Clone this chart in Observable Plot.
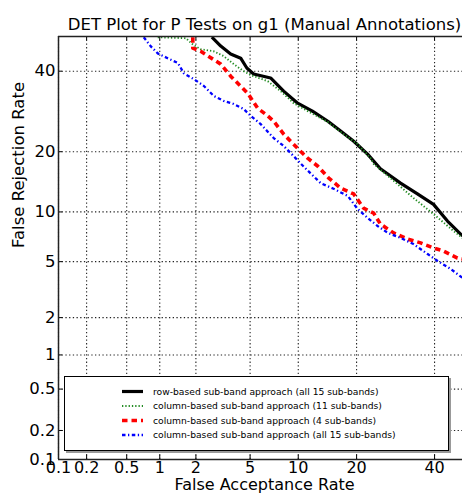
<!DOCTYPE html>
<html><head><meta charset="utf-8">
<script src="https://cdn.jsdelivr.net/npm/d3@7"></script>
<script src="https://cdn.jsdelivr.net/npm/@observablehq/plot@0.6"></script>
<style>
html,body{margin:0;padding:0;background:#fff;overflow:hidden}
#wrap{position:relative;width:462px;height:495px;font-family:"DejaVu Sans",sans-serif}
#legend{position:absolute;left:64px;top:376px;width:383px;height:73px;background:#fff;border:1px solid #000;box-shadow:2px 2px 0 #999;}
#legend svg{position:absolute;left:0;top:0}
</style></head><body><div id="wrap"></div>
<script>
// ---- data (percent) ----
const tickValues = [0.1, 0.2, 0.5, 1, 2, 5, 10, 20, 40];
const tickLabels = ["0.1", "0.2", "0.5", "1", "2", "5", "10", "20", "40"];
const xMaxRate = 48.3;   // right edge of visible x range (%)
const yMaxRate = 50;     // top of y range (%)
const minRate = 0.1;

const seriesNames = [
  "row-based sub-band approach (all 15 sub-bands)",
  "column-based sub-band approach (11 sub-bands)",
  "column-based sub-band approach (4 sub-bands)",
  "column-based sub-band approach (all 15 sub-bands)"
];

const rowAll15FA = [2.66, 3.10, 3.66, 4.31, 4.75, 5.28, 6.81, 8.20, 9.92, 12.0, 14.5, 16.8, 19.4, 22.4, 25.4, 30.5, 35.1, 39.7, 43.8, 48.3];
const rowAll15FR = [49.8, 47.2, 44.9, 43.7, 40.9, 39.2, 38.1, 34.5, 31.3, 29.3, 26.8, 24.5, 22.2, 19.5, 16.7, 14.2, 12.5, 11.0, 8.88, 7.26];

const col11FA = [0.96, 1.66, 1.92, 2.18, 2.75, 3.26, 3.85, 4.52, 5.05, 6.53, 7.87, 9.41, 11.3, 14.5, 16.8, 20.2, 23.1, 23.8, 28.7, 34.0, 39.7, 45.6, 48.3];
const col11FR = [49.8, 49.5, 47.5, 46.3, 45.7, 44.3, 42.0, 40.0, 38.9, 37.2, 34.5, 31.3, 29.3, 26.6, 24.3, 21.6, 18.7, 17.6, 14.6, 11.9, 9.73, 7.77, 7.06];

const col4FA = [1.89, 1.89, 2.18, 3.10, 3.66, 4.82, 5.62, 6.53, 7.12, 8.20, 9.03, 10.3, 11.3, 12.8, 14.6, 16.8, 19.4, 21.5, 23.8, 25.4, 28.7, 32.4, 36.0, 39.7, 42.6, 46.8, 48.3];
const col4FR = [49.8, 46.6, 45.7, 42.0, 38.6, 33.9, 30.0, 28.1, 26.8, 23.8, 22.2, 20.1, 18.7, 17.2, 15.1, 13.4, 12.5, 10.5, 9.85, 8.53, 7.57, 6.95, 6.58, 6.12, 5.86, 5.28, 5.21];

const colAll15FA = [0.72, 0.83, 0.96, 1.17, 1.43, 1.60, 1.92, 2.31, 2.75, 3.26, 3.85, 4.52, 5.05, 5.88, 7.12, 8.20, 9.41, 10.3, 11.7, 13.3, 15.5, 18.2, 20.2, 22.4, 24.7, 27.2, 30.5, 34.0, 38.0, 40.9, 44.7, 48.3];
const colAll15FR = [49.8, 47.2, 45.1, 43.7, 42.3, 39.4, 37.8, 35.9, 33.2, 31.9, 31.1, 29.8, 28.1, 26.1, 22.9, 21.2, 19.1, 17.7, 15.9, 14.2, 13.3, 12.2, 10.4, 9.25, 8.32, 7.57, 7.06, 6.47, 5.60, 5.05, 4.48, 3.89];

// ---- styles ----
const styles = [
  {stroke: "#000000", strokeWidth: 3.2, dash: null},
  {stroke: "#228b22", strokeWidth: 1.9, dash: "1.3,2"},
  {stroke: "#ff0000", strokeWidth: 3.6, dash: "5.5,4"},
  {stroke: "#0000ff", strokeWidth: 2.3, dash: "3.5,2.5,1.3,2.5"}
];

// inverse normal CDF (Acklam)
function probit(p) {
  const a=[-3.969683028665376e+01,2.209460984245205e+02,-2.759285104469687e+02,1.383577518672690e+02,-3.066479806614716e+01,2.506628277459239e+00];
  const b=[-5.447609879822406e+01,1.615858368580409e+02,-1.556989798598866e+02,6.680131188771972e+01,-1.328068155288572e+01];
  const c=[-7.784894002430293e-03,-3.223964580411365e-01,-2.400758277161838e+00,-2.549671185469564e+00,4.374664141464968e+00,2.938163982698783e+00];
  const d=[7.784695709041462e-03,3.224671290700398e-01,2.445134137142996e+00,3.754408661907416e+00];
  const pl = 0.02425, ph = 1 - pl;
  let q, r;
  if (p < pl) { q = Math.sqrt(-2*Math.log(p)); return (((((c[0]*q+c[1])*q+c[2])*q+c[3])*q+c[4])*q+c[5])/((((d[0]*q+d[1])*q+d[2])*q+d[3])*q+1); }
  if (p <= ph) { q = p - 0.5; r = q*q; return (((((a[0]*r+a[1])*r+a[2])*r+a[3])*r+a[4])*r+a[5])*q/(((((b[0]*r+b[1])*r+b[2])*r+b[3])*r+b[4])*r+1); }
  q = Math.sqrt(-2*Math.log(1-p)); return -(((((c[0]*q+c[1])*q+c[2])*q+c[3])*q+c[4])*q+c[5])/((((d[0]*q+d[1])*q+d[2])*q+d[3])*q+1);
}
const P = v => probit(v / 100);

const seriesFA = [rowAll15FA, col11FA, col4FA, colAll15FA];
const seriesFR = [rowAll15FR, col11FR, col4FR, colAll15FR];
const series = seriesFA.map((fa, s) => fa.map((v, i) => ({fa: P(v), fr: P(seriesFR[s][i])})));

const xt = tickValues.map(P);
const labelOf = new Map(xt.map((v, i) => [v, tickLabels[i]]));
const xDomain = [P(minRate), P(xMaxRate)];
const yDomain = [P(minRate), P(yMaxRate)];

const W = 462, H = 495, ML = 58, MT = 36, MB = 36, MR = 0;
const frameW = W - ML - MR, frameH = H - MT - MB;

const grid = {stroke: "#222", strokeWidth: 1.1, strokeDasharray: "1.3,2.4"};

const chart = Plot.plot({
  width: W, height: H,
  marginLeft: ML, marginRight: MR, marginTop: MT, marginBottom: MB,
  style: {fontFamily: "DejaVu Sans", background: "#fff", color: "#000", overflow: "visible"},
  x: {domain: xDomain},
  y: {domain: yDomain},
  marks: [
    Plot.ruleX(xt, {x: d => d, ...grid}),
    Plot.ruleY(xt, {y: d => d, ...grid}),
    Plot.tickX(xt, {x: d => d, insetTop: frameH - 4, stroke: "#000"}),
    Plot.tickX(xt, {x: d => d, insetBottom: frameH - 4, stroke: "#000"}),
    Plot.tickY(xt, {y: d => d, insetRight: frameW - 4, stroke: "#000"}),
    ...series.map((data, s) => Plot.line(data, {
      x: "fa", y: "fr", clip: true,
      stroke: styles[s].stroke, strokeWidth: styles[s].strokeWidth,
      strokeDasharray: styles[s].dash, strokeLinecap: "butt", strokeLinejoin: "round"
    })),
    Plot.ruleY([yDomain[1]], {stroke: "#222", strokeWidth: 1.5}),
    Plot.ruleY([yDomain[0]], {stroke: "#222", strokeWidth: 1.5}),
    Plot.ruleX([xDomain[0]], {stroke: "#222", strokeWidth: 1.5}),
    Plot.axisX(xt, {anchor: "bottom", tickSize: 0, tickPadding: 2.5, fontSize: 16, tickFormat: d => labelOf.get(d), label: null}),
    Plot.axisY(xt, {anchor: "left", tickSize: 0, tickPadding: 3, fontSize: 16.5, tickFormat: d => labelOf.get(d), label: null}),
    Plot.text(["DET Plot for P Tests on g1 (Manual Annotations)"], {text: d => d, frameAnchor: "top", dy: -18, dx: 4, fontSize: 16.5}),
    Plot.text(["False Acceptance Rate"], {text: d => d, frameAnchor: "bottom", dy: 30, dx: 4, fontSize: 16}),
    Plot.text(["False Rejection Rate"], {text: d => d, frameAnchor: "left", dx: -40, rotate: -90, fontSize: 16.5})
  ]
});

const wrap = document.getElementById("wrap");
wrap.appendChild(chart);

// legend
const legend = document.createElement("div");
legend.id = "legend";
const rowsY = [14.5, 29, 43.5, 58];
let svg = `<svg width="383" height="73" xmlns="http://www.w3.org/2000/svg" font-family="DejaVu Sans" font-size="9.2">`;
seriesNames.forEach((name, i) => {
  const st = styles[i];
  svg += `<line x1="57" x2="78" y1="${rowsY[i]}" y2="${rowsY[i]}" stroke="${st.stroke}" stroke-width="${st.strokeWidth}" ${st.dash ? `stroke-dasharray="${st.dash}"` : ""}/>`;
  svg += `<text x="88" y="${rowsY[i] + 3.3}" fill="#000">${name}</text>`;
});
svg += `</svg>`;
legend.innerHTML = svg;
wrap.appendChild(legend);
</script>
</body></html>
